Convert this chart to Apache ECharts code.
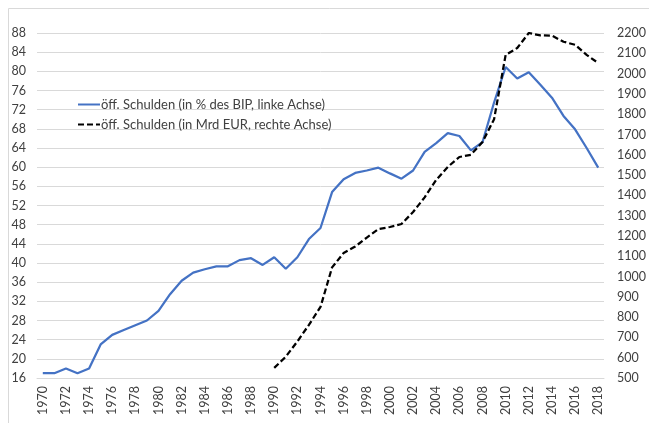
<!DOCTYPE html>
<html>
<head>
<meta charset="utf-8">
<script src="https://cdn.jsdelivr.net/npm/echarts@6/dist/echarts.min.js"></script>
<style>
  html, body { margin: 0; padding: 0; background: #fff; }
  #chart { width: 649px; height: 423px; }
</style>
</head>
<body>
<div id="chart"></div>
<script>
// Jahre 1970..2018
const years = []
for (let y = 1970; y <= 2018; y++) years.push(String(y))

// öff. Schulden in % des BIP (linke Achse)
const debtPct = [
  17, 17, 18, 17, 18, 23, 25, 26, 27, 28,
  30, 33.5, 36.3, 38, 38.7, 39.3, 39.3, 40.6, 41, 39.6,
  41.2, 38.8, 41.2, 45, 47.3, 54.8, 57.5, 58.8, 59.3, 59.9,
  58.7, 57.6, 59.3, 63.2, 65, 67.1, 66.5, 63.5, 65.2, 73.5,
  80.9, 78.5, 79.8, 77.2, 74.5, 70.7, 67.9, 64, 59.9
]

// öff. Schulden in Mrd EUR (rechte Achse), erst ab 1990
const debtEur = [
  null, null, null, null, null, null, null, null, null, null,
  null, null, null, null, null, null, null, null, null, null,
  550, 605, 680, 762, 850, 1045, 1116, 1148, 1192, 1234,
  1244, 1259, 1318, 1390, 1476, 1540, 1589, 1600, 1663, 1775,
  2092, 2126, 2200, 2188, 2187, 2157, 2142, 2092, 2052
]

const chart = echarts.init(document.getElementById('chart'))
const font = 'Lato, "Open Sans", sans-serif'
const txt = '#404040'

chart.setOption({
  animation: false,
  textStyle: { fontFamily: font },
  graphic: [{
    type: 'rect',
    shape: { x: 8.5, y: 8.5, width: 700, height: 500 },
    style: { fill: 'none', stroke: '#d9d9d9', lineWidth: 1 },
    z: -1
  }],
  grid: { left: 37, right: 37, top: 33, bottom: 45, containLabel: false },
  legend: {
    left: 72,
    top: 93,
    orient: 'vertical',
    itemWidth: 22,
    itemHeight: 14,
    itemGap: 7,
    itemStyle: { opacity: 0 },
    textStyle: { color: txt, fontSize: 13, fontFamily: font, padding: [0, 0, 0, -4] },
    data: ['öff. Schulden (in % des BIP, linke Achse)', 'öff. Schulden (in Mrd EUR, rechte Achse)']
  },
  xAxis: {
    type: 'category',
    data: years,
    boundaryGap: true,
    axisLine: { lineStyle: { color: '#d9d9d9' } },
    axisTick: { show: false },
    axisLabel: { interval: 1, rotate: 90, color: txt, fontSize: 12.5, margin: 8, fontFamily: font }
  },
  yAxis: [
    {
      type: 'value',
      min: 16,
      max: 88,
      interval: 4,
      axisLine: { show: false },
      axisTick: { show: false },
      splitLine: { lineStyle: { color: '#d9d9d9' } },
      axisLabel: { color: txt, fontSize: 12.5, margin: 11, fontFamily: font }
    },
    {
      type: 'value',
      min: 500,
      max: 2200,
      interval: 100,
      axisLine: { show: false },
      axisTick: { show: false },
      splitLine: { show: false },
      axisLabel: {
        color: txt, fontSize: 12.5, margin: 13, fontFamily: font,
        formatter: (v) => String(v)
      }
    }
  ],
  series: [
    {
      name: 'öff. Schulden (in % des BIP, linke Achse)',
      type: 'line',
      yAxisIndex: 0,
      data: debtPct,
      symbol: 'none',
      lineStyle: { color: '#4472C4', width: 2.25 },
      itemStyle: { color: '#4472C4' }
    },
    {
      name: 'öff. Schulden (in Mrd EUR, rechte Achse)',
      type: 'line',
      yAxisIndex: 1,
      data: debtEur,
      symbol: 'none',
      lineStyle: { color: '#000', width: 2.25, type: [6, 3] },
      itemStyle: { color: '#000' }
    }
  ]
})
</script>
</body>
</html>
